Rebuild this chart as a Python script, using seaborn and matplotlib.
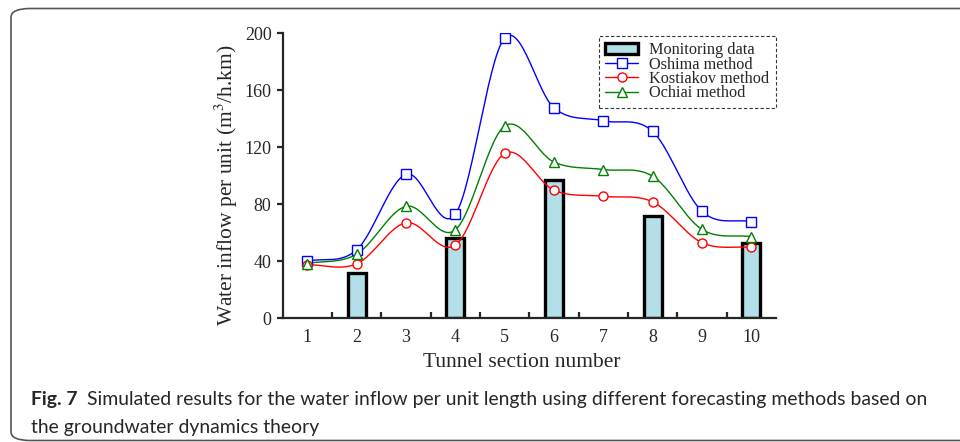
import numpy as np
import pandas as pd
import seaborn as sns
import matplotlib.pyplot as plt
from matplotlib.lines import Line2D
from matplotlib.patches import Patch, FancyBboxPatch

sns.set_theme(style="ticks")
plt.rcParams['font.family'] = ['Liberation Serif', 'DejaVu Serif']
plt.rcParams['mathtext.fontset'] = 'stix'
plt.rcParams['axes.linewidth'] = 1.6

# data
sections = ['1', '2', '3', '4', '5', '6', '7', '8', '9', '10']
monitor_sections = ['2', '4', '6', '8', '10']
monitoring = [32, 56, 97, 72, 53]
oshima = [40, 48, 101, 73, 196.5, 147.5, 138.5, 131, 75, 67.7]
kostiakov = [37.5, 38.2, 67, 51.3, 115.6, 89.8, 85.5, 81.6, 53, 49.7]
ochiai = [38.4, 45, 78.5, 62, 134.8, 109.5, 104.3, 99.6, 62.3, 57.2]


def smooth(y, n=30):
    # cubic hermite (catmull-rom) through the points, for drawing only
    y = np.asarray(y, float)
    x = np.arange(len(y), dtype=float)
    m = np.gradient(y)
    xs, ys = [], []
    for i in range(len(y) - 1):
        t = np.linspace(0, 1, n, endpoint=False)
        h00 = 2*t**3 - 3*t**2 + 1
        h10 = t**3 - 2*t**2 + t
        h01 = -2*t**3 + 3*t**2
        h11 = t**3 - t**2
        xs.append(x[i] + t)
        ys.append(h00*y[i] + h10*m[i] + h01*y[i+1] + h11*m[i+1])
    xs.append([x[-1]])
    ys.append([y[-1]])
    return np.concatenate(xs), np.concatenate(ys)


bar_df = pd.DataFrame({'section': monitor_sections, 'value': monitoring})

fig = plt.figure(figsize=(9.6, 4.42), dpi=100)
ax = fig.add_axes([0.2945, 0.2799, 0.5138, 0.6454])

sns.barplot(data=bar_df, x='section', y='value', order=sections,
            color='#b3dfe8', saturation=1, width=0.37,
            edgecolor='black', linewidth=2.4, ax=ax, zorder=1)

methods = [('Oshima method', oshima, 'blue', 's'),
           ('Kostiakov method', kostiakov, 'red', 'o'),
           ('Ochiai method', ochiai, 'green', '^')]

handles = [Patch(facecolor='#b3dfe8', edgecolor='black', linewidth=2.4,
                 label='Monitoring data')]
for name, vals, col, mk in methods:
    sx, sy = smooth(vals)
    sns.lineplot(x=sx, y=sy, color=col, linewidth=1.0, ax=ax, zorder=3)
    ax.plot(np.arange(len(vals)), vals, linestyle='none', marker=mk,
            markersize=6.5, markerfacecolor='white', markeredgecolor=col,
            markeredgewidth=1.0, zorder=4)
    handles.append(Line2D([], [], color=col, linewidth=1.0, marker=mk,
                          markersize=6.5, markerfacecolor='white',
                          markeredgecolor=col, label=name))

ax.set_xlim(-0.5, 9.5)
ax.set_ylim(0, 200)
ax.set_yticks(range(0, 201, 40))
ax.set_xticks(range(10))
ax.set_xticklabels(sections)
ax.set_xticks(np.arange(0.5, 9.5, 1), minor=True)
ax.tick_params(axis='x', which='major', length=0, pad=8, labelsize=13)
ax.tick_params(axis='x', which='minor', direction='in', length=4, width=1.6)
ax.tick_params(axis='y', direction='out', length=4, width=1.6, labelsize=13, pad=4)
sns.despine(ax=ax)

ax.set_xlabel('Tunnel section number', fontsize=15.5)
ax.set_ylabel('Water inflow per unit (m$^3$/h.km)', fontsize=15.5)
ax.xaxis.set_label_coords(0.4845, -0.12)
ax.yaxis.set_label_coords(-0.087, 0.467)

leg = ax.legend(handles=handles, loc='upper right', bbox_to_anchor=(1.0, 0.99),
                fontsize=11.7, frameon=True, fancybox=False, labelspacing=-0.1,
                handlelength=2.0, handletextpad=0.7, borderpad=0.4,
                borderaxespad=0.0)
frame = leg.get_frame()
frame.set_edgecolor('black')
frame.set_linestyle((0, (3, 2)))
frame.set_linewidth(0.8)

# caption panel
W, H = 960, 442
box = FancyBboxPatch((11 / W, 1.5 / H), 1.2, (433.5 - 1.5) / H,
                     boxstyle='round,pad=0,rounding_size=0.02',
                     transform=fig.transFigure, facecolor='none',
                     edgecolor='#555555', linewidth=1.2, clip_on=False)
fig.patches.append(box)

cap_font = ['Lato', 'DejaVu Sans']
fig.canvas.draw()
renderer = fig.canvas.get_renderer()
t_bold = fig.text(31 / W, 1 - 405 / H, 'Fig. 7', fontsize=13, fontweight='bold',
                  family=cap_font, va='baseline', ha='left')
t_rest = fig.text(87 / W, 1 - 405 / H,
                  'Simulated results for the water inflow per unit length using '
                  'different forecasting methods based on',
                  fontsize=13, family=cap_font, va='baseline', ha='left')
w = t_rest.get_window_extent(renderer).width
fs = 13 * 840 / w
t_rest.set_fontsize(fs)
t_bold.set_fontsize(fs)
fig.text(31 / W, 1 - 433 / H, 'the groundwater dynamics theory', fontsize=fs,
         family=cap_font, va='baseline', ha='left')

fig.savefig('out.png', dpi=100)
